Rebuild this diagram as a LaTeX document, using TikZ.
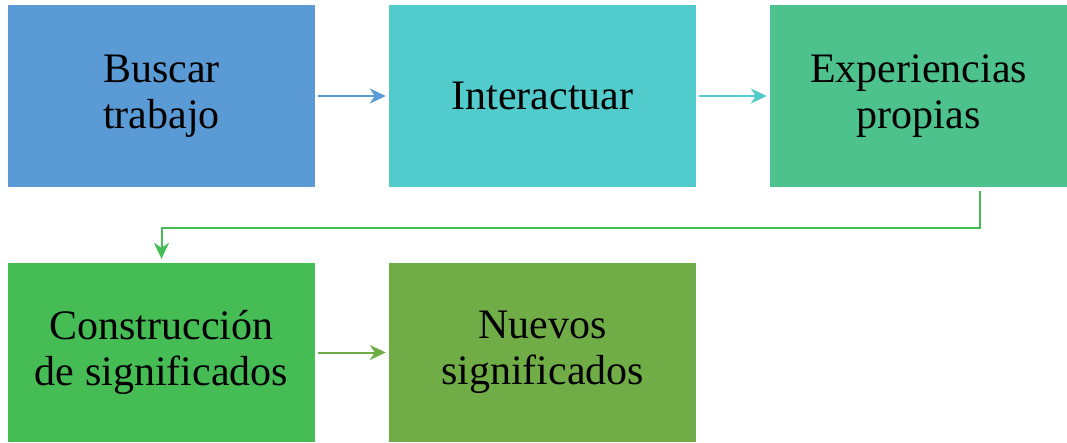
\documentclass[tikz,border=0pt]{standalone}
\usepackage{fontspec}
\setmainfont{Liberation Serif}
\usetikzlibrary{arrows.meta}
\definecolor{cBlue}{RGB}{91,155,213}
\definecolor{cTeal}{RGB}{82,203,204}
\definecolor{cMint}{RGB}{77,194,140}
\definecolor{cGreen}{RGB}{70,188,85}
\definecolor{cOlive}{RGB}{112,173,71}
\tikzset{
  stepbox/.style={rectangle, inner sep=0pt, minimum width=307pt, minimum height=182pt,
    align=center, font=\fontsize{42}{46}\selectfont},
  flow/.style={line width=2pt, -{Stealth[length=16pt,width=15pt,inset=5pt]}}
}
\begin{document}
\begin{tikzpicture}[x=1pt,y=-1pt]
\useasboundingbox (0,0) rectangle (1067,442);
\node[stepbox, fill=cBlue] (b1) at (161.5,96) {Buscar\\trabajo};
\node[stepbox, fill=cTeal] (b2) at (542.5,96) {Interactuar};
\node[stepbox, fill=cMint, minimum width=297pt] (b3) at (918.5,96) {Experiencias\\propias};
\node[stepbox, fill=cGreen, minimum height=179pt] (b4) at (161.5,352.5) {Construcción\\de significados};
\node[stepbox, fill=cOlive, minimum height=179pt] (b5) at (542.5,352.5) {Nuevos\\significados};
\draw[flow, cBlue] ([xshift=3pt]b1.east) -- ([xshift=-3pt]b2.west);
\draw[flow, cTeal] ([xshift=3pt]b2.east) -- ([xshift=-3pt]b3.west);
\draw[flow, cGreen] ([xshift=61pt,yshift=-4pt]b3.south) -- ++(0,37) -| ([yshift=4pt]b4.north);
\draw[flow, cOlive] ([xshift=3pt]b4.east) -- ([xshift=-3pt]b5.west);
\end{tikzpicture}
\end{document}
